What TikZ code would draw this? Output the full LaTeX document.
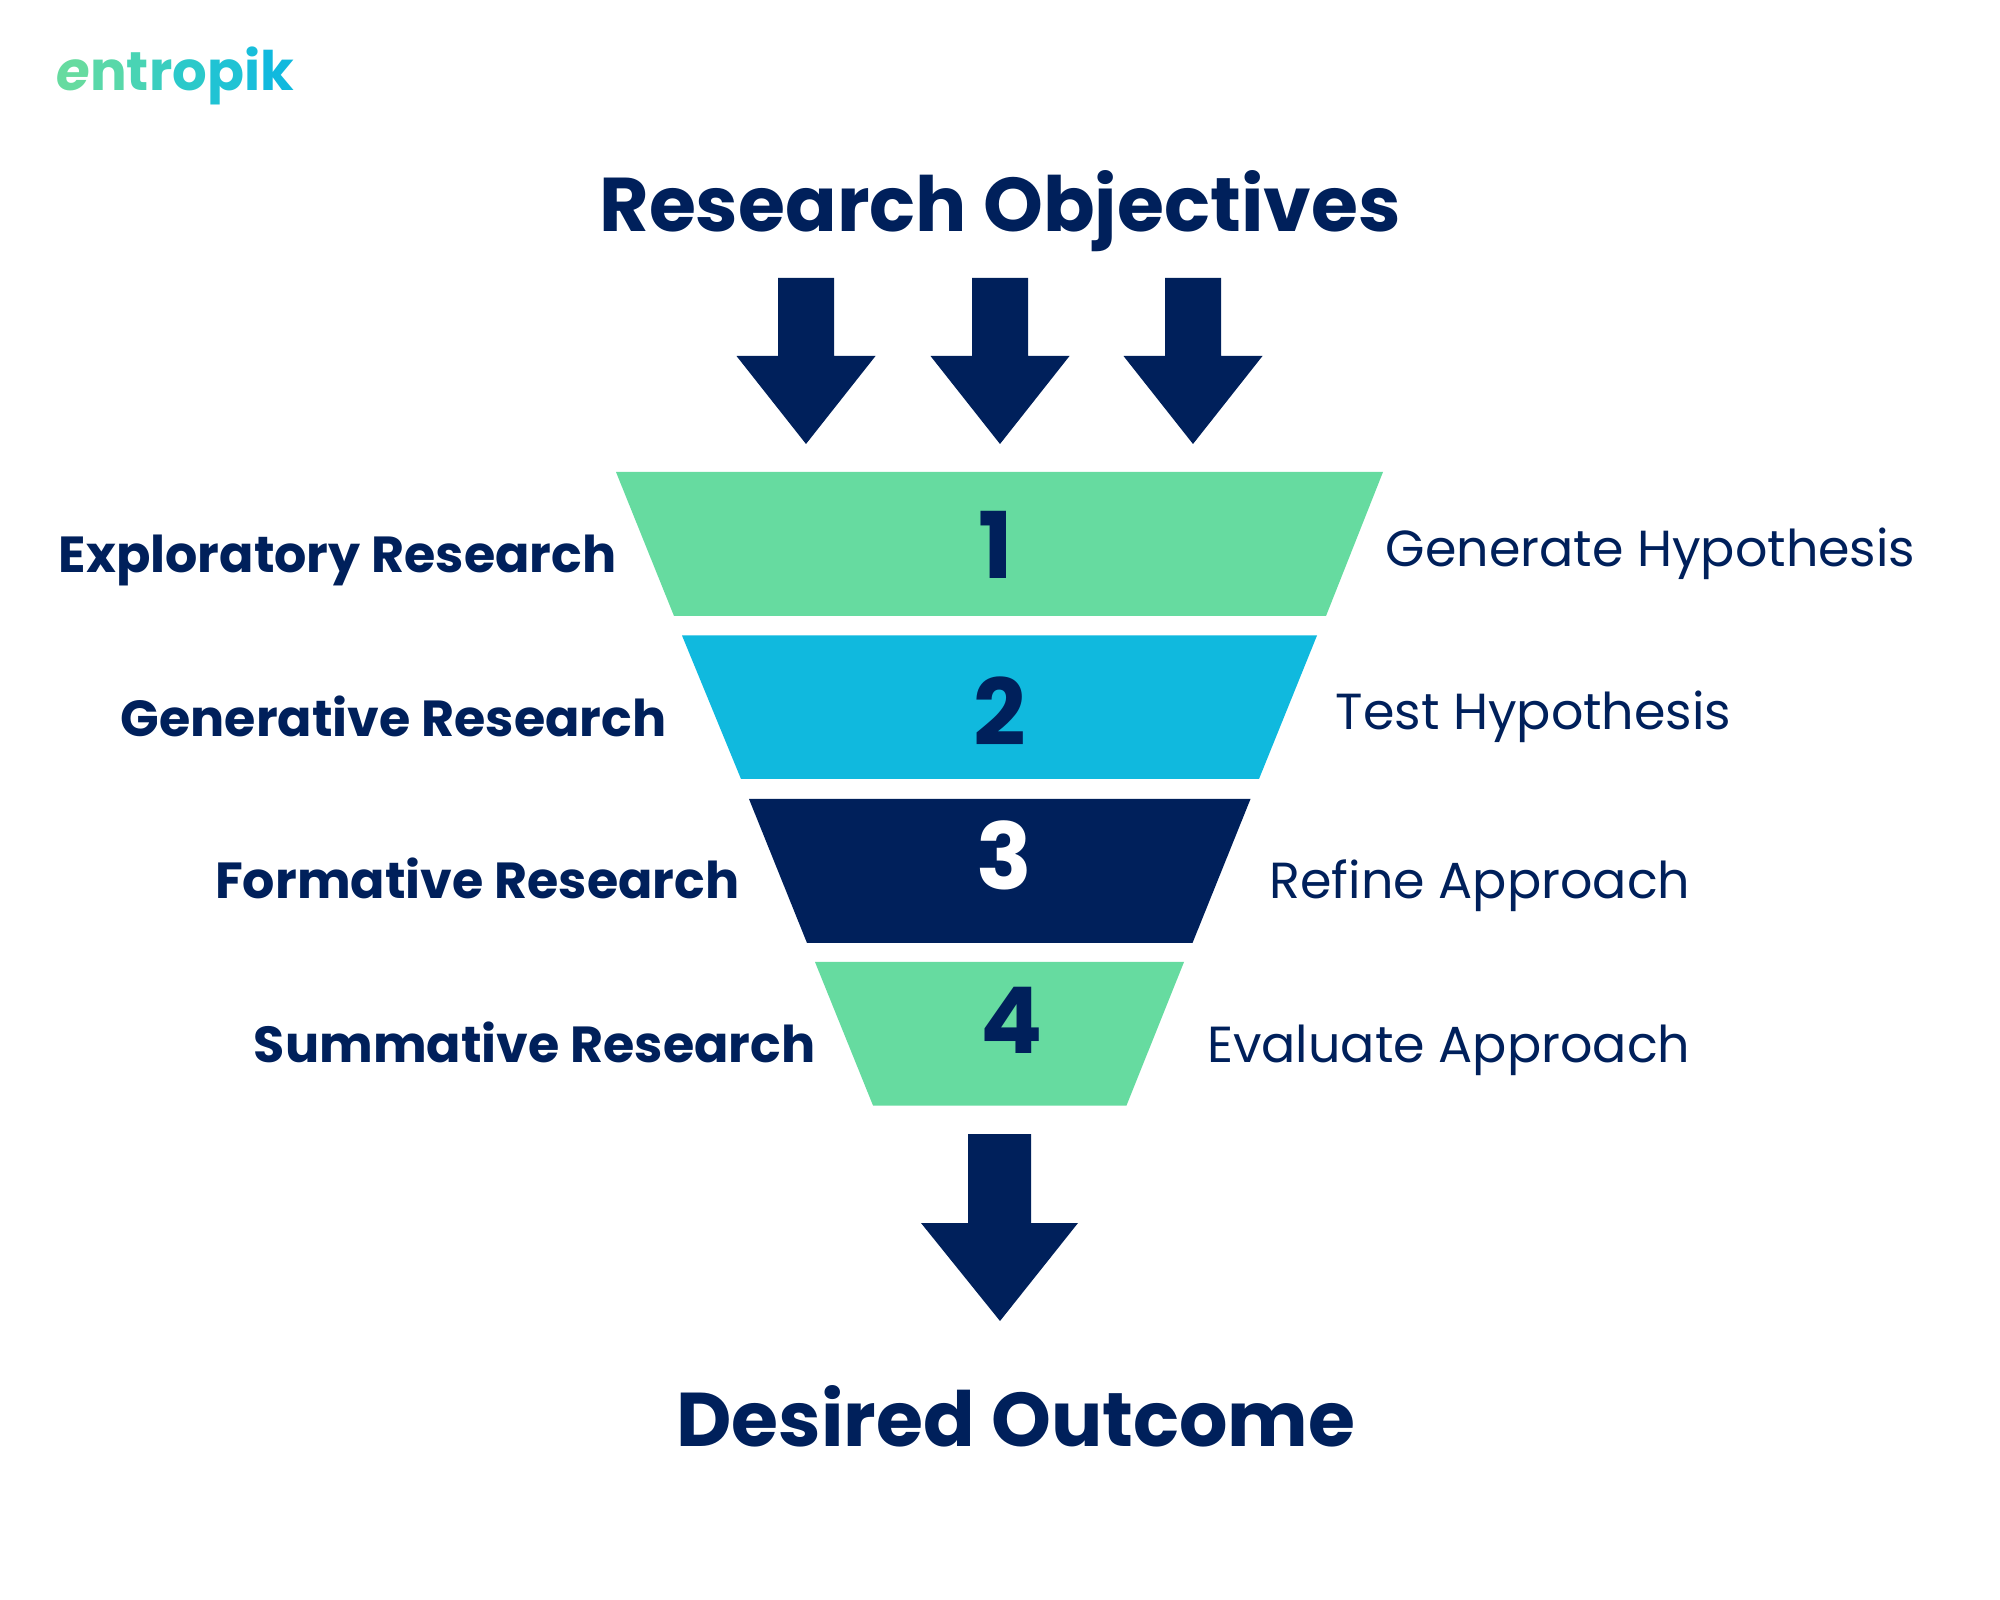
\documentclass[tikz,border=0pt]{standalone}
\usepackage{fontspec}
\setmainfont{Poppins}
\definecolor{navy}{HTML}{00205B}
\definecolor{mint}{HTML}{66DBA0}
\definecolor{sky}{HTML}{10B9DE}
\tikzset{
  heading/.style={inner sep=0pt,text=navy,font=\bfseries\fontsize{21.67}{26}\selectfont},
  stage/.style={inner sep=0pt,text=navy,font=\bfseries\fontsize{14.43}{18}\selectfont},
  aim/.style={inner sep=0pt,text=navy,font=\fontsize{14.43}{18}\selectfont},
  digit/.style={inner sep=0pt,text=navy,font=\bfseries\fontsize{26.2}{30}\selectfont},
  pointer/.style={fill=navy}
}
\newcommand{\logoletter}[2]{\textcolor[HTML]{#1}{#2}}
\begin{document}
\begin{tikzpicture}[y=-1cm]
\useasboundingbox (0,0) rectangle (20,16);
\node[anchor=base west,inner sep=0pt,font=\bfseries\fontsize{15.5}{18}\selectfont\addfontfeature{LetterSpace=-3.2}](logo)at(0.56,0.91){\logoletter{66DBA0}{\itshape e}\logoletter{58D8A9}{n}\logoletter{49D4B4}{t}\logoletter{3ACEBF}{r}\logoletter{2BC9CA}{o}\logoletter{20C3D4}{p}\logoletter{18BEDA}{i}\logoletter{10B9DE}{k}};
\node[heading,anchor=base](title)at(10,2.32){Research Objectives};
\foreach \c in {8.06,10,11.93}{
  \fill[pointer](\c-0.28,2.78)--(\c+0.28,2.78)--(\c+0.28,3.56)--(\c+0.695,3.56)--(\c,4.44)--(\c-0.695,3.56)--(\c-0.28,3.56)--cycle;
}
\fill[mint](6.16,4.72)--(13.83,4.72)--(13.26,6.16)--(6.74,6.16)--cycle;
\fill[sky](6.82,6.355)--(13.17,6.355)--(12.59,7.79)--(7.41,7.79)--cycle;
\fill[navy](7.49,7.99)--(12.505,7.99)--(11.925,9.43)--(8.07,9.43)--cycle;
\fill[mint](8.15,9.62)--(11.84,9.62)--(11.265,11.055)--(8.73,11.055)--cycle;
\node[digit,anchor=base](one)at(9.96,5.79){1};
\node[digit,anchor=base](two)at(10,7.455){2};
\node[digit,text=white,anchor=base](three)at(10.04,8.90){3};
\node[digit,anchor=base](four)at(10.12,10.53){4};
\node[stage,anchor=base east](exploratory)at(6.17,5.725){Exploratory Research};
\node[stage,anchor=base east](generative)at(6.67,7.365){Generative Research};
\node[stage,anchor=base east](formative)at(7.40,8.99){Formative Research};
\node[stage,anchor=base east](summative)at(8.16,10.62){Summative Research};
\node[aim,anchor=base west](hypogen)at(13.85,5.67){Generate Hypothesis};
\node[aim,anchor=base west](hypotest)at(13.35,7.30){Test Hypothesis};
\node[aim,anchor=base west](refine)at(12.69,8.99){Refine Approach};
\node[aim,anchor=base west](evaluate)at(12.065,10.62){Evaluate Approach};
\fill[pointer](9.68,11.34)--(10.31,11.34)--(10.31,12.23)--(10.78,12.23)--(10,13.21)--(9.21,12.23)--(9.68,12.23)--cycle;
\node[heading,anchor=base](outcome)at(10.16,14.46){Desired Outcome};
\end{tikzpicture}
\end{document}
